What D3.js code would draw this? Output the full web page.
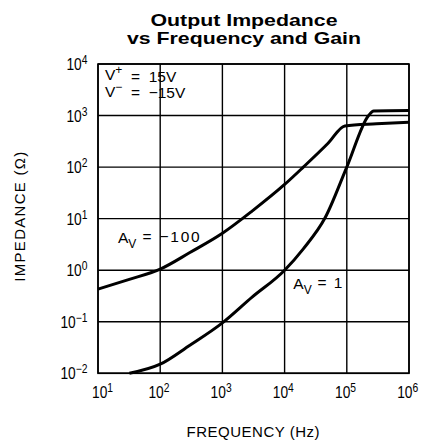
<!DOCTYPE html>
<html>
<head>
<meta charset="utf-8">
<script src="https://cdn.jsdelivr.net/npm/d3@7"></script>
<style>
  html, body { margin: 0; padding: 0; background: #fff; }
  svg { display: block; }
  text { font-family: "Liberation Sans", Arial, sans-serif; fill: #000; }
</style>
</head>
<body>
<svg id="chart" width="424" height="440"></svg>
<script>
// ---- data ----
const titleLines = ["Output Impedance", "vs Frequency and Gain"];
const xTickExps = [1, 2, 3, 4, 5, 6];
const yTickExps = [-2, -1, 0, 1, 2, 3, 4];

// A_V = -100 curve
const freqGain100 = [10, 30, 100, 300, 1000, 3000, 10000, 20000, 50000, 93000, 300000, 1000000];
const zGain100    = [0.43, 0.65, 1.05, 2.2, 5.2, 14, 46, 100, 290, 630, 690, 740];

// A_V = 1 curve
const freqGain1 = [32, 100, 300, 1000, 3000, 10000, 20000, 45000, 100000, 224000, 270000, 1000000];
const zGain1    = [0.01, 0.015, 0.035, 0.095, 0.3, 1.0, 2.6, 10.5, 100, 1000, 1230, 1250];

// ---- layout ----
const svg = d3.select("#chart");
const pL = 98, pR = 409, pT = 64, pB = 373.3;

const x = d3.scaleLog().domain([10, 1e6]).range([pL, pR]);
const y = d3.scaleLog().domain([0.01, 1e4]).range([pB, pT]);

// title (one text element, two lines)
const titleWidths = [187, 234];
const title = svg.append("text").attr("text-anchor", "middle")
  .style("font-size", "17px").style("font-weight", "bold");
title.selectAll("tspan").data(titleLines).join("tspan")
  .attr("x", 244).attr("y", (d, i) => 25.5 + i * 18.8)
  .attr("textLength", (d, i) => titleWidths[i]).attr("lengthAdjust", "spacingAndGlyphs")
  .text(d => d);

// grid
const grid = svg.append("g").attr("stroke", "#000").attr("stroke-width", 1.4);
grid.selectAll("line.v").data(xTickExps.map(e => Math.pow(10, e))).join("line").attr("class", "v")
  .attr("x1", d => x(d)).attr("x2", d => x(d)).attr("y1", pT).attr("y2", pB);
grid.selectAll("line.h").data(yTickExps.map(e => Math.pow(10, e))).join("line").attr("class", "h")
  .attr("y1", d => y(d)).attr("y2", d => y(d)).attr("x1", pL).attr("x2", pR);
svg.append("rect").attr("x", pL).attr("y", pT)
  .attr("width", pR - pL).attr("height", pB - pT)
  .attr("fill", "none").attr("stroke", "#000").attr("stroke-width", 1.6);

// axes (d3 axes for tick placement, custom power labels)
const sup = (sel, e) => {
  sel.append("tspan").text("10");
  sel.append("tspan").attr("dy", "-0.5em").style("font-size", "12px")
    .text(String(e).replace("-", "\u2212"));
};

const xAxis = svg.append("g").attr("transform", `translate(0,${pB})`)
  .call(d3.axisBottom(x).tickValues(xTickExps.map(e => Math.pow(10, e))).tickSize(0).tickFormat(""));
xAxis.select(".domain").remove();
xAxis.selectAll(".tick").each(function(d) {
  const e = Math.round(Math.log10(d));
  const dx = e === 1 ? -6.5 : -12.3;
  const t = d3.select(this).append("text")
    .attr("transform", `translate(${dx},25) scale(0.86,1)`)
    .attr("text-anchor", "start")
    .style("font-size", "16px");
  sup(t, e);
});

const yAxis = svg.append("g").attr("transform", `translate(${pL},0)`)
  .call(d3.axisLeft(y).tickValues(yTickExps.map(e => Math.pow(10, e))).tickSize(0).tickFormat(""));
yAxis.select(".domain").remove();
yAxis.selectAll(".tick").each(function(d) {
  const e = Math.round(Math.log10(d));
  const t = d3.select(this).append("text")
    .attr("transform", `translate(-10.5,5.5) scale(0.86,1)`)
    .attr("text-anchor", "end")
    .style("font-size", "16px");
  sup(t, e);
});

// axis titles
svg.append("text").attr("x", 253).attr("y", 437).attr("text-anchor", "middle")
  .attr("textLength", 133).attr("lengthAdjust", "spacing")
  .style("font-size", "15px")
  .text("FREQUENCY (Hz)");
svg.append("text").attr("transform", `translate(24.5,216.7) rotate(-90)`)
  .attr("text-anchor", "middle")
  .attr("textLength", 130).attr("lengthAdjust", "spacing")
  .style("font-size", "15px")
  .text("IMPEDANCE (\u03A9)");

// curves
const line = d3.line().x(d => x(d[0])).y(d => y(d[1])).curve(d3.curveMonotoneX);
const curves = [d3.zip(freqGain100, zGain100), d3.zip(freqGain1, zGain1)];
svg.append("g").selectAll("path").data(curves).join("path")
  .attr("d", line).attr("fill", "none").attr("stroke", "#000")
  .attr("stroke-width", 3).attr("stroke-linejoin", "round");

// annotations
const ann = svg.append("g").style("font-size", "15.5px");
const v1 = ann.append("text").attr("x", 105).attr("y", 80).attr("xml:space", "preserve");
v1.append("tspan").text("V");
v1.append("tspan").attr("dy", "-0.5em").style("font-size", "12px").text("+");
v1.append("tspan").attr("dy", "0.5em").text("  =  15V");
const v2 = ann.append("text").attr("x", 105).attr("y", 96.7).attr("xml:space", "preserve");
v2.append("tspan").text("V");
v2.append("tspan").attr("dy", "-0.5em").style("font-size", "12px").text("\u2212");
v2.append("tspan").attr("dy", "0.5em").text("  =  \u221215V");

const a1 = ann.append("text").attr("x", 118).attr("y", 243.3).attr("xml:space", "preserve");
a1.append("tspan").text("A");
a1.append("tspan").attr("dy", "0.42em").style("font-size", "12px").text("V");
a1.append("tspan").attr("dy", "-0.42em").attr("letter-spacing", "1.8px").text(" = \u2212100");

const a2 = ann.append("text").attr("x", 293.3).attr("y", 289).attr("xml:space", "preserve");
a2.append("tspan").text("A");
a2.append("tspan").attr("dy", "0.42em").style("font-size", "12px").text("V");
a2.append("tspan").attr("dy", "-0.42em").attr("letter-spacing", "1.5px").text(" = 1");
</script>
</body>
</html>
